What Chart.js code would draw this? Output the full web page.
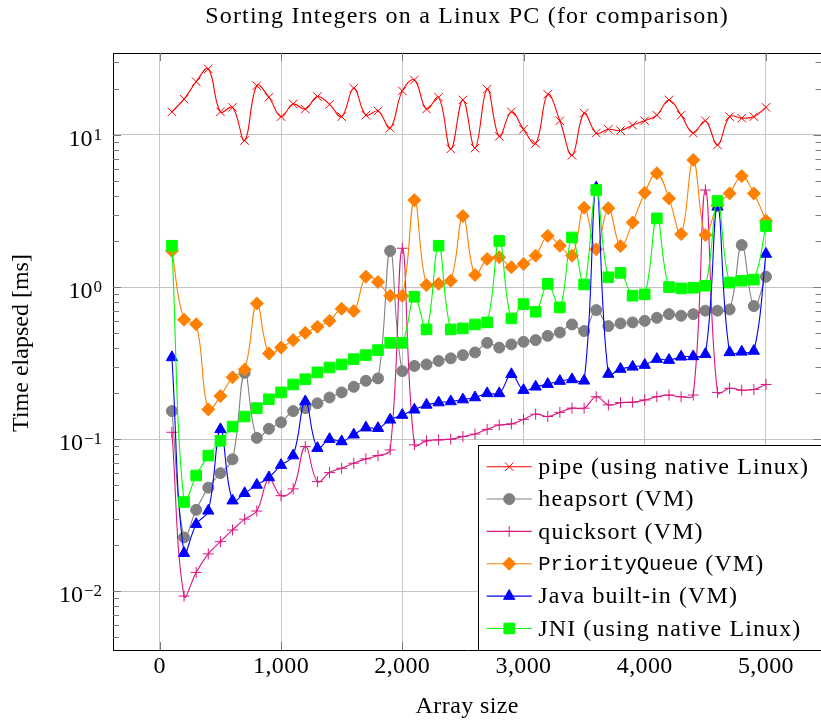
<!DOCTYPE html>
<html>
<head>
<meta charset="utf-8">
<title>Sorting Integers on a Linux PC (for comparison)</title>
<script src="https://cdn.jsdelivr.net/npm/chart.js@4.4.1/dist/chart.umd.min.js"></script>
<style>
  html, body { margin: 0; padding: 0; background: #fff; overflow: hidden; }
  canvas { display: block; }
</style>
</head>
<body>
<canvas id="sortChart" width="830" height="721"></canvas>
<script>
// array sizes (x) and elapsed times in ms (y)
const arraySizes = [100, 200, 300, 400, 500, 600, 700, 800, 900, 1000,
    1100, 1200, 1300, 1400, 1500, 1600, 1700, 1800, 1900, 2000,
    2100, 2200, 2300, 2400, 2500, 2600, 2700, 2800, 2900, 3000,
    3100, 3200, 3300, 3400, 3500, 3600, 3700, 3800, 3900, 4000,
    4100, 4200, 4300, 4400, 4500, 4600, 4700, 4800, 4900, 5000];

const pipeTimes = [14.2, 17.2, 22.4, 27.2, 14.2, 15.2, 9.2, 21.1, 17.7, 13.2,
    16.0, 14.8, 17.9, 15.9, 13.2, 20.3, 13.5, 14.4, 11.1, 19.5,
    23.0, 14.8, 17.7, 8.1, 17.0, 8.2, 20.0, 9.8, 14.2, 10.9,
    8.8, 18.5, 12.4, 7.35, 13.9, 10.3, 10.9, 10.7, 11.6, 12.4,
    13.5, 17.0, 13.5, 10.3, 12.4, 8.6, 13.2, 12.9, 13.2, 15.2];

const heapsortTimes = [0.153, 0.0226, 0.0343, 0.048, 0.0598, 0.0738, 0.273, 0.102, 0.117, 0.129,
    0.153, 0.16, 0.172, 0.188, 0.203, 0.221, 0.242, 0.251, 1.73, 0.28,
    0.303, 0.31, 0.327, 0.34, 0.357, 0.372, 0.43, 0.40, 0.42, 0.437,
    0.448, 0.478, 0.503, 0.568, 0.514, 0.706, 0.554, 0.577, 0.586, 0.60,
    0.628, 0.664, 0.648, 0.664, 0.70, 0.70, 0.713, 1.89, 0.75, 1.17];

const quicksortTimes = [0.111, 0.0093, 0.0133, 0.0176, 0.0212, 0.0253, 0.0298, 0.0337, 0.0549, 0.0425,
    0.0471, 0.0894, 0.0526, 0.0603, 0.0644, 0.0695, 0.0742, 0.078, 0.085, 1.8,
    0.0918, 0.0975, 0.099, 0.1, 0.104, 0.108, 0.116, 0.124, 0.126, 0.135,
    0.146, 0.141, 0.15, 0.16, 0.16, 0.19, 0.168, 0.174, 0.175, 0.181,
    0.19, 0.195, 0.19, 0.195, 4.35, 0.203, 0.216, 0.21, 0.212, 0.229];

const priorityQueueTimes = [1.73, 0.61, 0.57, 0.157, 0.192, 0.255, 0.287, 0.78, 0.366, 0.40,
    0.448, 0.50, 0.548, 0.60, 0.72, 0.695, 1.17, 1.08, 0.877, 0.877,
    3.73, 1.03, 1.05, 1.1, 2.93, 1.2, 1.53, 1.57, 1.35, 1.42,
    1.61, 2.17, 1.87, 1.61, 3.32, 1.77, 3.3, 1.86, 2.66, 4.17,
    5.6, 3.83, 2.23, 6.85, 2.2, 3.43, 4.13, 5.37, 4.13, 2.73];

const javaBuiltinTimes = [0.345, 0.0178, 0.0276, 0.0338, 0.116, 0.0394, 0.0441, 0.05, 0.056, 0.0675,
    0.078, 0.177, 0.0873, 0.1, 0.0965, 0.107, 0.119, 0.118, 0.134, 0.144,
    0.156, 0.168, 0.174, 0.177, 0.182, 0.188, 0.2, 0.2, 0.267, 0.21,
    0.221, 0.23, 0.241, 0.247, 0.242, 4.5, 0.268, 0.289, 0.299, 0.307,
    0.336, 0.331, 0.348, 0.35, 0.362, 3.37, 0.372, 0.375, 0.38, 1.65];

const jniTimes = [1.87, 0.0386, 0.0577, 0.078, 0.0975, 0.121, 0.141, 0.16, 0.183, 0.203,
    0.229, 0.248, 0.275, 0.296, 0.31, 0.336, 0.357, 0.385, 0.43, 0.43,
    0.863, 0.527, 1.87, 0.527, 0.535, 0.568, 0.586, 2.01, 0.622, 0.773,
    0.688, 1.05, 0.735, 2.12, 1.04, 4.35, 1.16, 1.24, 0.877, 0.895,
    2.83, 1.0, 0.98, 0.99, 1.02, 3.68, 1.07, 1.1, 1.12, 2.52];

const xTickValues = [0, 1000, 2000, 3000, 4000, 5000];
const yTickValues = [0.01, 0.1, 1, 10];
const chartTitle = "Sorting Integers on a Linux PC (for comparison)";
const yAxisTitle = "Time elapsed [ms]";

const serif = "'Liberation Serif', 'Times New Roman', serif";
const mono = "'Liberation Mono', 'DejaVu Sans Mono', monospace";

function toPoints(values) {
    return arraySizes.map((size, i) => ({ x: size, y: values[i] }));
}

function makeDataset(label, values, color, pointStyle, radius, order) {
    return {
        label: label,
        data: toPoints(values),
        borderColor: color,
        backgroundColor: color,
        pointBackgroundColor: color,
        pointBorderColor: color,
        pointStyle: pointStyle,
        pointRadius: radius,
        pointBorderWidth: 1,
        borderWidth: 1.1,
        tension: 0.4,
        order: order
    };
}

const datasets = [
    makeDataset("pipe (using native Linux)", pipeTimes, "#ff0000", "crossRot", 6, 5),
    makeDataset("heapsort (VM)", heapsortTimes, "#808080", "circle", 5.5, 4),
    makeDataset("quicksort (VM)", quicksortTimes, "#d9177f", "cross", 5.5, 3),
    makeDataset("PriorityQueue (VM)", priorityQueueTimes, "#ff8000", "rectRot", 6.5, 2),
    makeDataset("Java built-in (VM)", javaBuiltinTimes, "#0000ff", "triangle", 6.5, 1),
    makeDataset("JNI (using native Linux)", jniTimes, "#00ff00", "rect", 7.5, 0)
];

// title, frame, inward tick marks, y labels with exponents and the legend box
const decorations = {
    id: "decorations",
    beforeDraw(chart) {
        // Computer Modern runs a bit wider than Liberation Serif
        chart.ctx.letterSpacing = "0.4px";
    },
    beforeDatasetsDraw(chart) {
        chart.ctx.letterSpacing = "0px";
    },
    afterDraw(chart) {
        const ctx = chart.ctx;
        const area = chart.chartArea;
        const xScale = chart.scales.x;
        const yScale = chart.scales.y;

        ctx.save();
        ctx.fillStyle = "#000";
        ctx.textAlign = "center";
        ctx.textBaseline = "middle";
        ctx.letterSpacing = "1.2px";
        ctx.font = "24px " + serif;
        ctx.fillText(chartTitle, (area.left + 821) / 2, 17);

        ctx.letterSpacing = "0px";
        ctx.save();
        ctx.translate(22, 343);
        ctx.rotate(-Math.PI / 2);
        ctx.fillText(yAxisTitle, 0, 0);
        ctx.restore();

        ctx.strokeStyle = "#000";
        ctx.lineWidth = 1;
        ctx.beginPath();
        ctx.moveTo(area.left, area.top + 0.5);
        ctx.lineTo(area.right, area.top + 0.5);
        ctx.stroke();

        // tick marks
        ctx.strokeStyle = "#7a7a7a";
        ctx.beginPath();
        xTickValues.forEach(v => {
            const x = Math.round(xScale.getPixelForValue(v)) + 0.5;
            ctx.moveTo(x, area.top); ctx.lineTo(x, area.top + 8);
            ctx.moveTo(x, area.bottom); ctx.lineTo(x, area.bottom - 8);
        });
        [0.001, 0.01, 0.1, 1, 10].forEach(decade => {
            for (let k = 1; k <= 9; k++) {
                const v = k * decade;
                if (v < yScale.min || v > yScale.max) continue;
                const len = k === 1 ? 8 : 6;
                const y = Math.round(yScale.getPixelForValue(v)) + 0.5;
                ctx.moveTo(area.left, y); ctx.lineTo(area.left + len, y);
                ctx.moveTo(area.right, y); ctx.lineTo(area.right - len, y);
            }
        });
        ctx.stroke();

        // y tick labels: 10 with a raised exponent
        ctx.fillStyle = "#000";
        ctx.textBaseline = "alphabetic";
        ctx.textAlign = "left";
        yTickValues.forEach(v => {
            const y = yScale.getPixelForValue(v);
            const exp = Math.round(Math.log10(v));
            const expText = exp < 0 ? "\u2212" + (-exp) : String(exp);
            ctx.font = "17px " + serif;
            const expW = ctx.measureText(expText).width;
            ctx.font = "24px " + serif;
            const baseW = ctx.measureText("10").width;
            const right = 102;
            ctx.fillText("10", right - expW - baseW - 1, y + 11);
            ctx.font = "17px " + serif;
            ctx.fillText(expText, right - expW, y + 5);
        });

        // legend
        const lx = 478.5, ly = 445.5, lb = area.bottom + 0.5;
        ctx.fillStyle = "#fff";
        ctx.fillRect(lx, ly, 400, lb - ly);
        ctx.strokeStyle = "#000";
        ctx.lineWidth = 1;
        ctx.strokeRect(lx, ly, 400, lb - ly);
        chart.data.datasets.forEach((ds, i) => {
            const y = 466.7 + i * 32.35;
            ctx.strokeStyle = ds.borderColor;
            ctx.lineWidth = ds.borderWidth;
            ctx.beginPath();
            ctx.moveTo(486.7, y);
            ctx.lineTo(531.7, y);
            ctx.stroke();
            ctx.fillStyle = ds.borderColor;
            ctx.lineWidth = 1;
            Chart.helpers.drawPoint(ctx, {
                pointStyle: ds.pointStyle, radius: ds.pointRadius, borderWidth: 1, rotation: 0
            }, 509.2, y);
            ctx.fillStyle = "#000";
            ctx.textBaseline = "middle";
            let tx = 538.3;
            let text = ds.label;
            if (text.startsWith("PriorityQueue")) {
                ctx.letterSpacing = "0px";
                ctx.font = "20.5px " + mono;
                ctx.fillText("PriorityQueue", tx, y + 1);
                tx += ctx.measureText("PriorityQueue").width;
                text = text.slice("PriorityQueue".length);
            }
            ctx.letterSpacing = "1.1px";
            ctx.font = "24px " + serif;
            ctx.fillText(text, tx, y + 1);
        });
        ctx.restore();
    }
};

new Chart(document.getElementById("sortChart"), {
    type: "line",
    data: { datasets: datasets },
    options: {
        responsive: false,
        animation: false,
        devicePixelRatio: 1,
        layout: { padding: { top: 53, right: 0, bottom: 0, left: 0 } },
        plugins: {
            legend: { display: false },
            tooltip: { enabled: false },
            title: { display: false }
        },
        scales: {
            x: {
                type: "linear",
                min: -386,
                max: 5458,
                afterFit: scale => { scale.height = 71; },
                afterBuildTicks: scale => { scale.ticks = xTickValues.map(v => ({ value: v })); },
                grid: { color: "#c4c4c4", lineWidth: 1, drawTicks: false },
                border: { display: true, color: "#000", width: 1 },
                ticks: {
                    padding: 2,
                    color: "#000",
                    font: { family: serif, size: 24 },
                    maxRotation: 0,
                    callback: v => v.toLocaleString("en-US")
                },
                title: {
                    display: true,
                    text: "Array size",
                    color: "#000",
                    font: { family: serif, size: 24 },
                    padding: { top: 0, bottom: 0 }
                }
            },
            y: {
                type: "logarithmic",
                min: 0.00411,
                max: 34.6,
                afterFit: scale => { scale.width = 113; },
                afterBuildTicks: scale => { scale.ticks = yTickValues.map(v => ({ value: v })); },
                grid: { color: "#c4c4c4", lineWidth: 1, drawTicks: false },
                border: { display: true, color: "#000", width: 1 },
                ticks: { display: false },
                title: { display: false }
            }
        }
    },
    plugins: [decorations]
});
</script>
</body>
</html>
